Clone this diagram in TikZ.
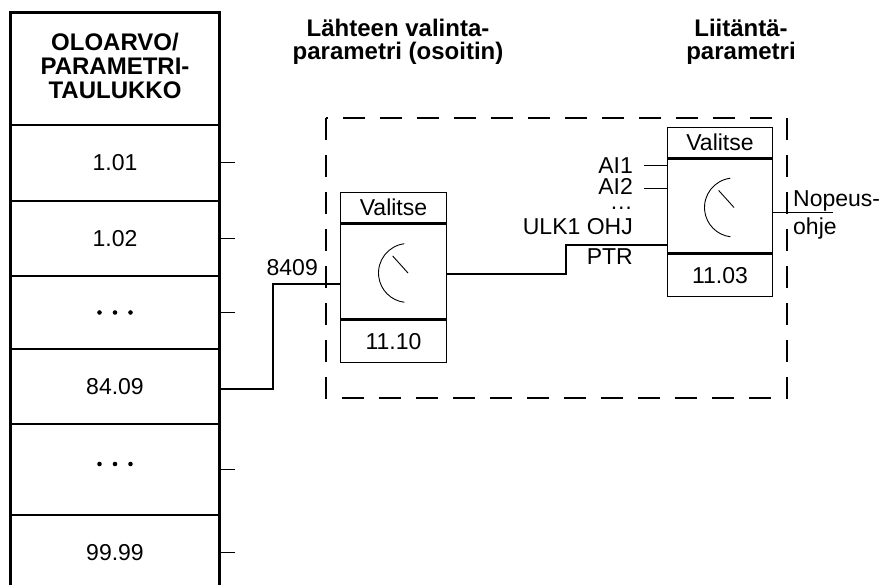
\documentclass[tikz,border=0pt]{standalone}
\usepackage{fontspec}
\setmainfont{Liberation Sans}
\usetikzlibrary{calc}
\newcommand\fnorm{\fontsize{23pt}{20pt}\selectfont}
\newcommand\fbold{\fontsize{24pt}{24pt}\selectfont\bfseries}
\begin{document}
\begin{tikzpicture}[x=1pt,y=-1pt,
  tblrow/.style={rectangle, minimum width=208pt, inner sep=0pt, font=\fnorm},
  selbox/.style={draw, line width=1.3pt, minimum width=105.5pt, inner sep=0pt, font=\fnorm},
  conn/.style={line width=2.5pt},
  tickln/.style={line width=1pt},
  lbl/.style={inner sep=0pt, font=\fnorm},
  hd/.style={inner sep=0pt, font=\fbold},
  dial/.style={line width=0.9pt},
  grpbox/.style={line width=1.3pt, dash pattern=on 22pt off 15pt}]
\useasboundingbox (0,0) rectangle (886,585);
\clip (0,0) rectangle (886,585);

% table rows
\node[tblrow, minimum height=112pt] (r0) at (115,69) {};
\node[hd, align=center] (r0t) at (115,66) {OLOARVO/\\PARAMETRI-\\TAULUKKO};
\node[tblrow, minimum height=76pt] (r1) at (115,163) {1.01};
\node[tblrow, minimum height=75pt] (r2) at (115,238.5) {1.02};
\node[tblrow, minimum height=73pt] (r3) at (115,312.5) {};
\node[tblrow, minimum height=75pt] (r4) at (115,386.5) {84.09};
\node[tblrow, minimum height=91pt] (r5) at (115,469.5) {};
\node[tblrow, minimum height=75pt] (r6) at (115,552.5) {99.99};
\foreach \r in {r0,r1,r2,r3,r4,r5}
  \draw[line width=1.5pt] (\r.south west) -- (\r.south east);
\draw[line width=3pt] (r0.north west) rectangle (r6.south east);
% ellipsis dots
\foreach \dx in {-15.5,0,15.5} {
  \fill ($(r3.center)+(\dx,0)$) circle (2.3pt);
  \fill ($(r5.center)+(\dx,-5.5)$) circle (2.3pt);
}
% ticks
\foreach \r in {r1,r2,r3,r5,r6}
  \draw[tickln] (\r.east) -- ++(16,0);

% headings
\node[hd, anchor=base] (h1a) at (398,37) {Lähteen valinta-};
\node[hd, anchor=base] (h1b) at (398,60) {parametri (osoitin)};
\node[hd, anchor=base] (h2a) at (741,37) {Liitäntä-};
\node[hd, anchor=base] (h2b) at (741,60) {parametri};

% dashed group
\draw[grpbox] (326,118) rectangle (787,398);

% middle selector
\node[selbox, minimum height=95pt] (mb) at (393.5,271.5) {};
\node[selbox, minimum height=30pt, anchor=south] (mh) at (mb.north) {Valitse};
\node[selbox, minimum height=42pt, anchor=north] (mf) at (mb.south) {11.10};
\coordinate (mc) at ($(mb.center)+(14.5,1.5)$);
\draw[dial] (mc) ++(97:29.5pt) arc[start angle=97, end angle=263, radius=29.5pt];
\draw[dial] (mc) -- ++(132:23pt);

% right selector
\node[selbox, minimum height=94pt] (rb) at (720,206) {};
\node[selbox, minimum height=30pt, anchor=south] (rh) at (rb.north) {Valitse};
\node[selbox, minimum height=42pt, anchor=north] (rf) at (rb.south) {11.03};
\coordinate (rc) at ($(rb.center)+(14,1.5)$);
\draw[dial] (rc) ++(97:29.5pt) arc[start angle=97, end angle=263, radius=29.5pt];
\draw[dial] (rc) -- ++(132:23pt);

% connectors
\coordinate (k1) at (273,284);
\draw[conn] ($(r4.east)+(0,2.5)$) -| (k1) -- (k1 -| mb.west);
\node[lbl, anchor=base east] (l8409) at (318,276) {8409};
\coordinate (k2) at (566,245);
\draw[conn] ($(mb.east)+(0,2.5)$) -| (k2) -- (k2 -| rb.west);

\coordinate (a1) at (644,166);
\coordinate (a2) at (644,189);
\draw[tickln] (a1) -- (a1 -| rb.west);
\draw[tickln] (a2) -- (a2 -| rb.west);
\node[lbl, anchor=base east] (lai1) at (633,174) {AI1};
\node[lbl, anchor=base east] (lai2) at (633,195) {AI2};
\node[lbl, anchor=base east] (ldots) at (633,210) {…};
\node[lbl, anchor=base east] (lulk) at (633,235) {ULK1 OHJ};
\node[lbl, anchor=base east] (lptr) at (633,265) {PTR};

\coordinate (o1) at (833,213);
\draw[tickln] (o1 -| rb.east) -- (o1);
\node[lbl, anchor=base west] (lnop) at (793,207) {Nopeus-};
\node[lbl, anchor=base west] (lohj) at (793,235) {ohje};
\end{tikzpicture}
\end{document}
